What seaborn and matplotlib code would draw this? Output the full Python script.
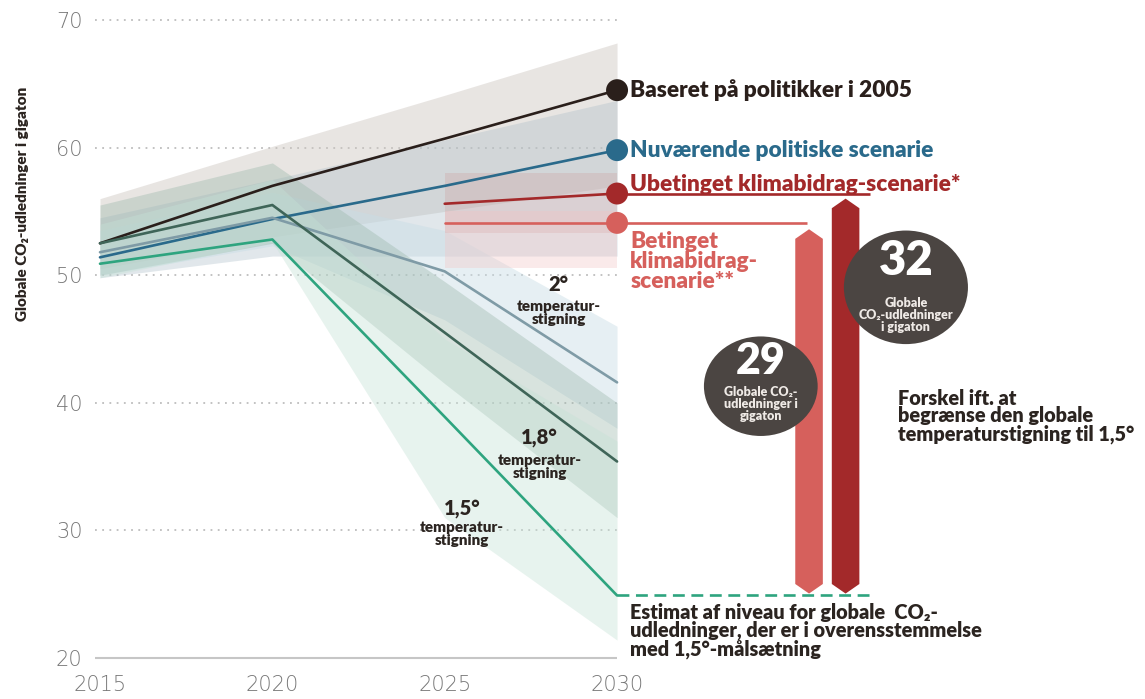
import numpy as np
import pandas as pd
import matplotlib
matplotlib.use("Agg")
import matplotlib.pyplot as plt
from matplotlib.patches import Ellipse, Polygon
import seaborn as sns

# ---------------- data ----------------
years = [2015, 2020, 2025, 2030]
policy_2005 = [52.5, 57.0, 60.7, 64.5]
current_policy = [51.4, 54.4, 57.0, 59.8]
deg_2 = [51.8, 54.5, 50.3, 41.6]
deg_18 = [52.5, 55.5, 45.5, 35.4]
deg_15 = [50.9, 52.8, 38.9, 24.9]

ndc_years = [2025, 2030]
unconditional = [55.6, 56.4]
conditional = [54.1, 54.1]

# uncertainty ranges
policy_2005_lo = [50.5, 53.0, 55.0, 57.0]
policy_2005_hi = [56.0, 60.1, 64.1, 68.2]
current_lo = [49.8, 51.5, 51.5, 51.5]
current_hi = [54.5, 57.5, 60.6, 63.7]
deg_2_lo = [50.0, 52.3, 46.5, 38.0]
deg_2_hi = [53.5, 56.5, 53.5, 46.0]
deg_18_lo = [50.0, 52.5, 41.5, 31.0]
deg_18_hi = [55.5, 58.8, 49.5, 40.0]
deg_15_lo = [49.8, 52.6, 31.0, 21.4]
deg_15_hi = [54.0, 57.5, 45.0, 37.0]
uncond_lo = [53.3, 53.3]
uncond_hi = [58.0, 58.0]
cond_lo = [50.6, 50.6]
cond_hi = [55.0, 55.0]

target_15 = 24.9
gap_values = ["29", "32"]

y_ticks = [20, 30, 40, 50, 60, 70]
x_ticks = [2015, 2020, 2025, 2030]

lbl_2005 = "Baseret på politikker i 2005"
lbl_current = "Nuværende politiske scenarie"
lbl_uncond = "Ubetinget klimabidrag-scenarie*"
lbl_cond = "Betinget\nklimabidrag-\nscenarie**"
lbl_temp = "temperatur-\nstigning"
ylabel = "Globale CO₂-udledninger i gigaton"
note_target = "Estimat af niveau for globale  CO₂-\nudledninger, der er i overensstemmelse\nmed 1,5°-målsætning"
note_gap = "Forskel ift. at\nbegrænse den globale\ntemperaturstigning til 1,5°"
circle_txt_32 = "Globale\nCO₂-udledninger\ni gigaton"
circle_txt_29 = "Globale CO₂-\nudledninger i\ngigaton"

# ---------------- style ----------------
sns.set_theme(style="white")
plt.rcParams["font.family"] = ["Lato", "DejaVu Sans"]

C_BLACK = "#2a1f1b"
C_BLUE = "#2a6a8b"
C_DRED = "#a3292a"
C_CORAL = "#d6605c"
C_2 = "#7f9ba6"
C_18 = "#3f6558"
C_15 = "#2ea47f"
C_TXT = "#2b2420"
C_CIRC = "#4b4542"
W = "heavy"

fig = plt.figure(figsize=(11.45, 6.99), dpi=100)
ax = fig.add_axes([95 / 1145, 41 / 699, 1050 / 1145, 658 / 699])
ax.set_xlim(2014.855, 2045.316)
ax.set_ylim(20, 71.567)

# grid lines
ax.hlines(y_ticks[1:], 2014.855, 2030, colors="#bdbdbd", linestyles=(0, (1, 3)), lw=1.3, zorder=0)
ax.hlines(20, 2014.855, 2030, colors="#c6c6c6", lw=1.5, zorder=0, clip_on=False)

# bands
ax.fill_between(years, policy_2005_lo, policy_2005_hi, color="#cdc6c0", alpha=0.45, lw=0, zorder=1)
ax.fill_between(years, current_lo, current_hi, color="#a9bcc7", alpha=0.35, lw=0, zorder=1)
ax.fill_between(years, deg_2_lo, deg_2_hi, color="#c8dde6", alpha=0.45, lw=0, zorder=1)
ax.fill_between(years, deg_18_lo, deg_18_hi, color="#9ab7aa", alpha=0.38, lw=0, zorder=1)
ax.fill_between(years, deg_15_lo, deg_15_hi, color="#c5e2d6", alpha=0.4, lw=0, zorder=1)
ax.fill_between(ndc_years, uncond_lo, uncond_hi, color="#cfa7a7", alpha=0.35, lw=0, zorder=1)
ax.fill_between(ndc_years, cond_lo, cond_hi, color="#f2c4c4", alpha=0.35, lw=0, zorder=1)

# lines
names = ["2005", "current", "2", "1.8", "1.5"]
series = [policy_2005, current_policy, deg_2, deg_18, deg_15]
df = pd.DataFrame({
    "year": np.tile(years, len(series)),
    "value": np.concatenate(series),
    "scenario": np.repeat(names, len(years)),
})
palette = {"2005": C_BLACK, "current": C_BLUE, "2": C_2, "1.8": C_18, "1.5": C_15}
sns.lineplot(data=df, x="year", y="value", hue="scenario", palette=palette,
             linewidth=1.9, legend=False, ax=ax, sort=False, zorder=3)

df_ndc = pd.DataFrame({
    "year": ndc_years * 2,
    "value": unconditional + conditional,
    "scenario": ["uncond"] * 2 + ["cond"] * 2,
})
sns.lineplot(data=df_ndc, x="year", y="value", hue="scenario",
             palette={"uncond": C_DRED, "cond": C_CORAL}, linewidth=1.9,
             legend=False, ax=ax, zorder=3)

# leader lines to the right
ax.hlines(unconditional[-1], 2030, 2037.35, colors=C_DRED, lw=1.9, zorder=3)
ax.hlines(conditional[-1], 2030, 2035.5, colors=C_CORAL, lw=1.9, zorder=3)
ax.hlines(target_15, 2030, 2037.45, colors=C_15, lw=1.9, linestyles=(0, (4.5, 2.5)), zorder=3)

# end markers
ends = pd.DataFrame({
    "year": [2030] * 4,
    "value": [policy_2005[-1], current_policy[-1], unconditional[-1], conditional[-1]],
    "scenario": ["2005", "current", "uncond", "cond"],
})
sns.scatterplot(data=ends, x="year", y="value", hue="scenario",
                palette={"2005": C_BLACK, "current": C_BLUE, "uncond": C_DRED, "cond": C_CORAL},
                s=250, linewidth=0, legend=False, ax=ax, zorder=4)

# series labels
lx = 2030.38
ax.text(lx, policy_2005[-1], lbl_2005, color=C_BLACK, fontsize=16.3, fontweight=W, va="center", ha="left")
ax.text(lx, current_policy[-1], lbl_current, color=C_BLUE, fontsize=16.3, fontweight=W, va="center", ha="left")
ax.text(lx, unconditional[-1] + 0.2, lbl_uncond, color=C_DRED, fontsize=16.3, fontweight=W, va="baseline", ha="left")
ax.text(lx, 53.5, lbl_cond, color=C_CORAL, fontsize=16.3, fontweight=W, va="top", ha="left", linespacing=0.95)

# temperature labels
def temp_label(x, y_big, y_small, big):
    ax.text(x, y_big, big, color=C_TXT, fontsize=14.5, fontweight=W, ha="center", va="center", zorder=5)
    ax.text(x, y_small, lbl_temp, color=C_TXT, fontsize=11, fontweight=W, ha="center", va="center",
            linespacing=1.0, zorder=5)

temp_label(2028.3, 49.3, 47.0, "2°")
temp_label(2027.75, 37.3, 35.0, "1,8°")
temp_label(2025.5, 31.7, 29.7, "1,5°")

# gap arrows
def gap_bar(cx, top, bottom, color):
    hw, tip = 0.4, 0.75
    pts = [(cx - hw, bottom + tip), (cx - hw, top - tip), (cx, top), (cx + hw, top - tip),
           (cx + hw, bottom + tip), (cx, bottom)]
    ax.add_patch(Polygon(pts, closed=True, color=color, lw=0, zorder=3))

gap_bar(2035.57, conditional[-1] - 0.5, target_15 + 0.15, C_CORAL)
gap_bar(2036.63, unconditional[-1] - 0.4, target_15 + 0.15, C_DRED)

# circles
ax.add_patch(Ellipse((2038.38, 49.05), 3.6, 8.9, color=C_CIRC, lw=0, zorder=5))
ax.text(2038.38, 51.1, gap_values[1], color="white", fontsize=34, fontweight=W, ha="center", va="center", zorder=6)
ax.text(2038.38, 46.9, circle_txt_32, color="#efeae6", fontsize=9, fontweight=W, ha="center", va="center",
        linespacing=1.0, zorder=6)

ax.add_patch(Ellipse((2034.17, 41.3), 3.3, 7.8, color=C_CIRC, lw=0, zorder=5))
ax.text(2034.17, 43.3, gap_values[0], color="white", fontsize=31, fontweight=W, ha="center", va="center", zorder=6)
ax.text(2034.17, 39.9, circle_txt_29, color="#efeae6", fontsize=9, fontweight=W, ha="center", va="center",
        linespacing=1.0, zorder=6)

# notes
ax.text(lx, 24.3, note_target, color=C_TXT, fontsize=14.3, fontweight=W, ha="left", va="top", linespacing=0.92)
ax.text(2038.15, 41.1, note_gap, color=C_TXT, fontsize=14.3, fontweight=W, ha="left", va="top", linespacing=0.92)

# axes
ax.set_xticks(x_ticks)
ax.set_xticklabels([str(x) for x in x_ticks])
ax.set_yticks(y_ticks)
ax.set_yticklabels([str(y) for y in y_ticks])
ax.tick_params(axis="both", length=0, labelsize=15, labelcolor="#777777")
ax.tick_params(axis="y", pad=9)
ax.tick_params(axis="x", pad=12)
for lab in ax.get_xticklabels() + ax.get_yticklabels():
    lab.set_family("DejaVu Sans")
    lab.set_fontweight("light")
ax.set_xlabel("")
ax.set_ylabel("")
for s in ax.spines.values():
    s.set_visible(False)
ax.grid(False)

fig.text(23 / 1145, 1 - 204 / 699, ylabel, rotation=90, ha="center", va="center",
         fontsize=11, fontweight=W, color=C_TXT)

fig.savefig("out.png", dpi=100, facecolor="white")
